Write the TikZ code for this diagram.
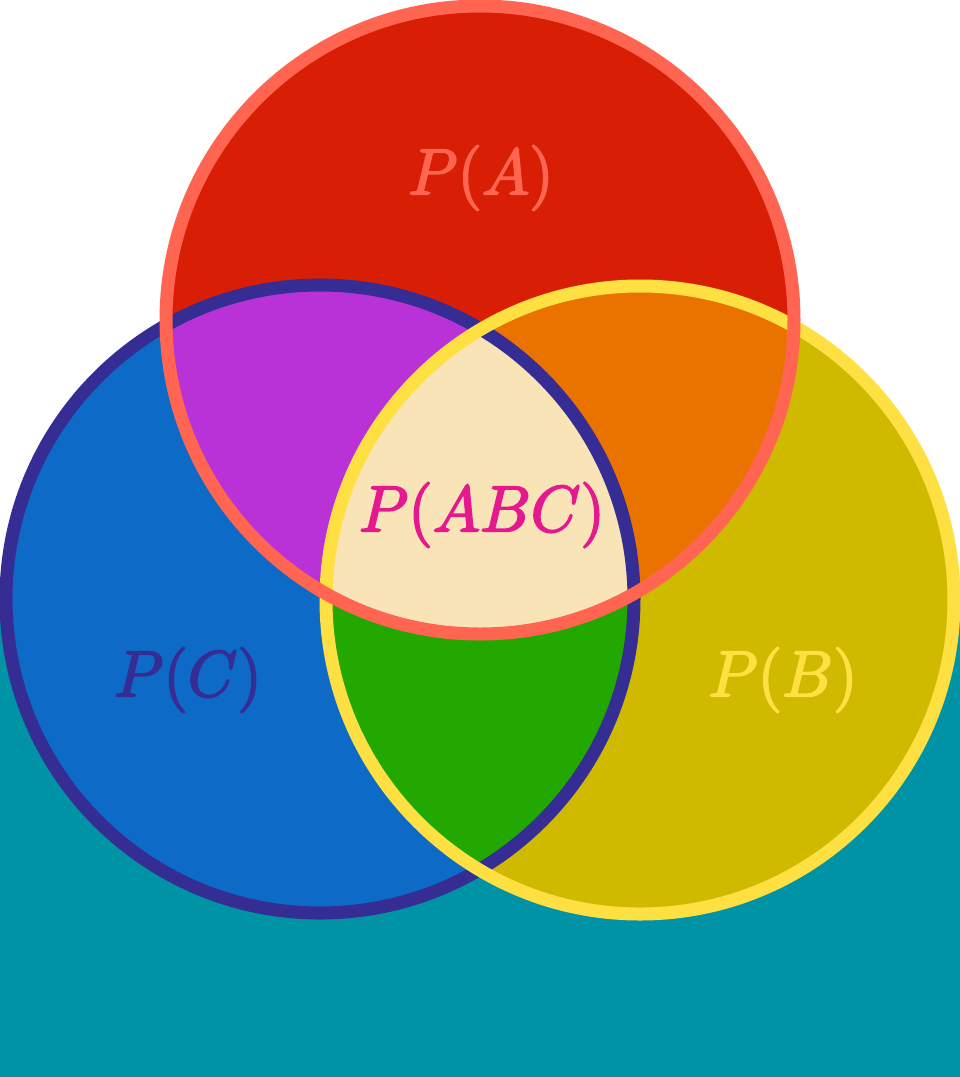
\documentclass[tikz,border=0pt]{standalone}
\definecolor{redfill}{RGB}{216,31,6}
\definecolor{coral}{RGB}{255,101,80}
\definecolor{bluefill}{RGB}{13,106,198}
\definecolor{bluedark}{RGB}{53,44,148}
\definecolor{yellowfill}{RGB}{207,186,0}
\definecolor{yellowline}{RGB}{255,224,66}
\definecolor{purplefill}{RGB}{184,50,216}
\definecolor{orangefill}{RGB}{234,115,0}
\definecolor{greenfill}{RGB}{34,168,0}
\definecolor{beige}{RGB}{249,228,183}
\definecolor{teal}{RGB}{0,147,166}
\definecolor{magentatext}{RGB}{229,24,142}
\newcommand{\heavytext}[1]{\special{pdf:literal direct 2 Tr 0.28 w}#1\special{pdf:literal direct 0 Tr}}
\begin{document}
\begin{tikzpicture}[x=1pt,y=-1pt,
  ring/.style={line width=13pt},
  lbl/.style={font=\normalsize, inner sep=0pt, xscale=6.3, yscale=6.5}]
\useasboundingbox (0,0) rectangle (960,1077);
% background
\fill[white] (0,0) rectangle (960,1077);
\fill[teal] (0,600) rectangle (960,1077);
% centres
\coordinate (A) at (480,320);
\coordinate (C) at (320,599);
\coordinate (B) at (640,600);
% base fills
\fill[redfill] (A) circle[radius=314pt];
\fill[bluefill] (C) circle[radius=314pt];
\fill[yellowfill] (B) circle[radius=314pt];
% pairwise intersections
\begin{scope}
  \clip (A) circle[radius=314pt];
  \fill[purplefill] (C) circle[radius=314pt];
  \fill[orangefill] (B) circle[radius=314pt];
\end{scope}
\begin{scope}
  \clip (B) circle[radius=314pt];
  \fill[greenfill] (C) circle[radius=314pt];
\end{scope}
\begin{scope}
  \clip (A) circle[radius=314pt];
  \clip (B) circle[radius=314pt];
  \fill[beige] (C) circle[radius=314pt];
\end{scope}
% rings
\draw[ring, bluedark] (C) circle[radius=314pt];
\draw[ring, yellowline] (B) circle[radius=314pt];
\draw[ring, coral] (A) circle[radius=314pt];
% labels
\node[lbl, text=coral] (la) at (481,178) {\heavytext{$P(A)$}};
\node[lbl, text=magentatext] (labc) at (482,515) {\heavytext{$P(ABC)$}};
\node[lbl, text=bluedark] (lc) at (188,680) {\heavytext{$P(C)$}};
\node[lbl, text=yellowline] (lb) at (783,680) {\heavytext{$P(B)$}};
\end{tikzpicture}
\end{document}
